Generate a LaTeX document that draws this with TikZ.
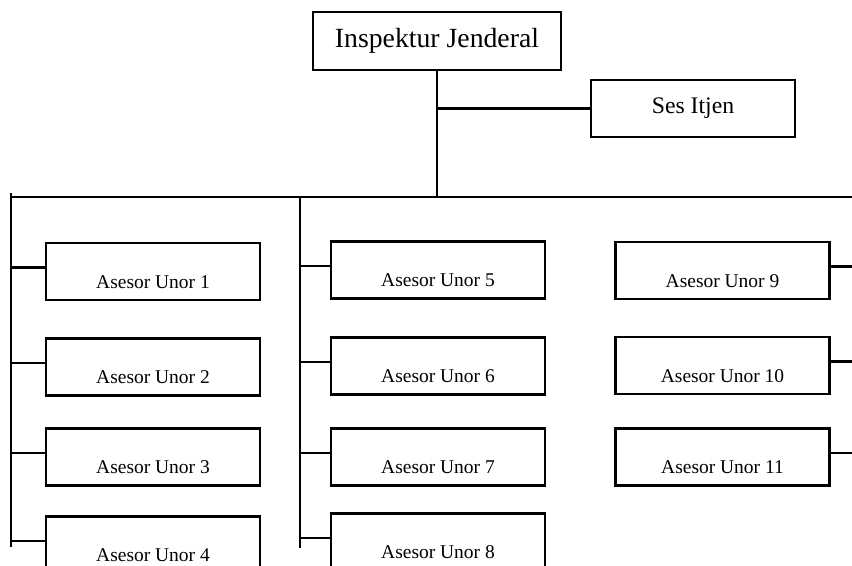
\documentclass[tikz,border=0pt]{standalone}
\usepackage{fontspec}
\setmainfont{Liberation Serif}
\tikzset{
	chief/.style={draw, line width=2pt, minimum width=186pt, minimum height=43.5pt, inner sep=0pt, font=\fontsize{20.8}{24}\selectfont},
	secbox/.style={draw, line width=2pt, minimum width=153pt, minimum height=42.75pt, inner sep=0pt, font=\fontsize{17.8}{21}\selectfont},
	unorbox/.style={draw, line width=2pt, minimum width=160.5pt, inner sep=0pt, text height=33.75pt, text depth=9pt, font=\fontsize{14.6}{17}\selectfont},
	wire/.style={line width=2pt}
}
\begin{document}
\begin{tikzpicture}[x=0.75pt, y=-0.75pt]
	\useasboundingbox (0,0) rectangle (852,565);
	\clip (0,0) rectangle (852,565);
	% top
	\node[chief] (irjen) at (437,41) {Inspektur Jenderal};
	\node[secbox] (ses) at (693,108.5) {Ses Itjen};
	\coordinate (busL) at (11,197);
	\coordinate (busM) at (300,197);
	\coordinate (busR) at (852,197);
	\coordinate (busTop) at (11,193);
	\coordinate (endL) at (11,547);
	\coordinate (endM) at (300,548);
	\draw[wire] (irjen.south) -- (irjen.south |- busL);
	\draw[wire] (irjen.south |- ses.west) -- (ses.west);
	\draw[wire] (busL) -- (busR);
	\draw[wire] (busTop) -- (endL);
	\draw[wire] (busM) -- (endM);
	% left column
	\node[unorbox] (u1) at (153,271.5) {Asesor Unor 1};
	\node[unorbox] (u2) at (153,367) {Asesor Unor 2};
	\node[unorbox] (u3) at (153,457) {Asesor Unor 3};
	\node[unorbox] (u4) at (153,545) {Asesor Unor 4};
	% middle column
	\node[unorbox] (u5) at (438,270) {Asesor Unor 5};
	\node[unorbox] (u6) at (438,366) {Asesor Unor 6};
	\node[unorbox] (u7) at (438,457) {Asesor Unor 7};
	\node[unorbox] (u8) at (438,542) {Asesor Unor 8};
	% right column
	\node[unorbox] (u9) at (722.5,270.5) {Asesor Unor 9};
	\node[unorbox] (u10) at (722.5,365.5) {Asesor Unor 10};
	\node[unorbox] (u11) at (722.5,457) {Asesor Unor 11};
	\foreach \u in {1,2,3,4}
		\draw[wire] ([yshift=3pt]u\u.west -| busL) -- ([yshift=3pt]u\u.west);
	\foreach \u in {5,6,7,8}
		\draw[wire] ([yshift=3pt]u\u.west -| busM) -- ([yshift=3pt]u\u.west);
	\foreach \u in {9,10,11}
		\draw[wire] ([yshift=3pt]u\u.east) -- ([yshift=3pt]u\u.east -| busR);
\end{tikzpicture}
\end{document}
